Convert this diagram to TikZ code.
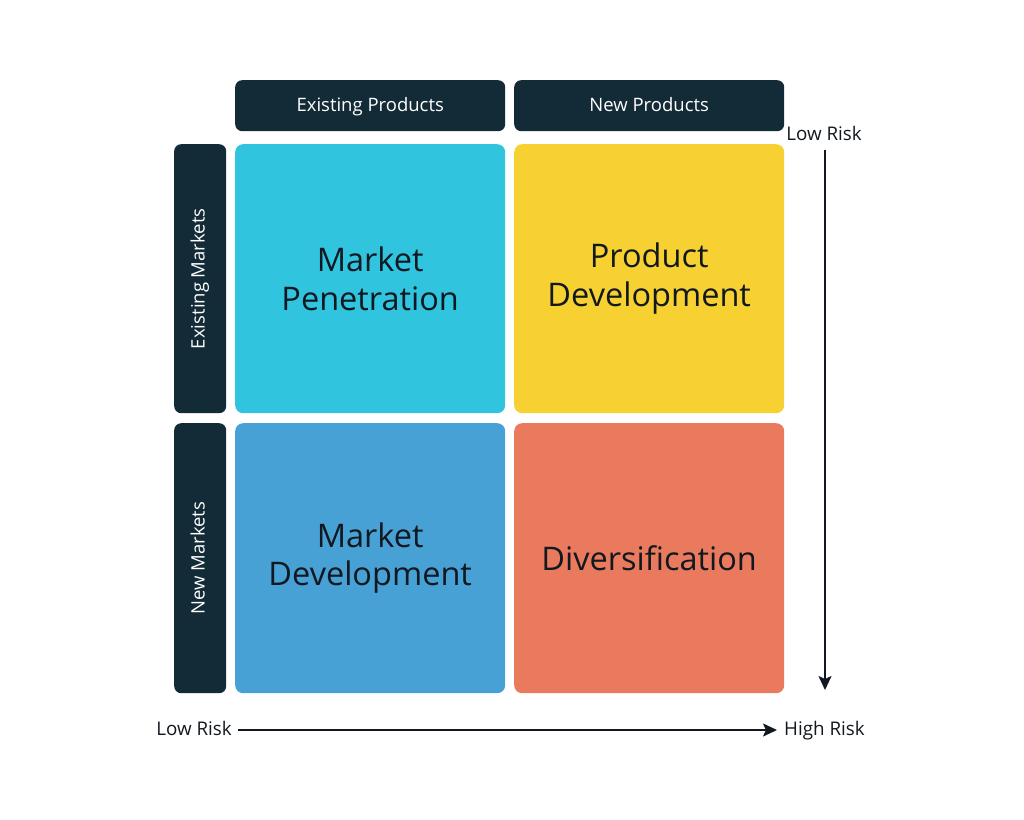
\documentclass[tikz,border=0pt]{standalone}
\usepackage{fontspec}
\setmainfont{Open Sans}
\usetikzlibrary{arrows.meta}
\definecolor{navy}{HTML}{132A37}
\definecolor{qcyan}{HTML}{30C4DF}
\definecolor{qyellow}{HTML}{F7D131}
\definecolor{qblue}{HTML}{47A1D5}
\definecolor{qorange}{HTML}{EA7A5D}
\definecolor{txt}{HTML}{111820}
\tikzset{
  hdr/.style={fill=navy, rounded corners=7pt, text=white, font=\fontsize{18.5}{22}\selectfont, inner sep=0pt, anchor=north west, text height=15pt, text depth=3pt},
  quad/.style={rounded corners=8pt, text=txt, font=\fontsize{32.5}{38.5}\selectfont, align=center, inner sep=0pt, anchor=north west, minimum width=270pt, minimum height=269pt},
  risk/.style={text=txt, font=\fontsize{18.8}{22}\selectfont, inner sep=0pt},
  side/.style={rotate=90, text=white, font=\fontsize{18.5}{22}\selectfont, text height=13.5pt, text depth=4.5pt, inner sep=0pt},
  axis/.style={line width=1.8pt, draw=txt, -{Stealth[length=14pt,width=13pt,inset=3pt]}}
}
\begin{document}
\begin{tikzpicture}[x=1pt,y=-1pt]
\useasboundingbox (0,0) rectangle (1024,819);
\node[hdr, minimum width=270pt, minimum height=51pt] (ep) at (235,80) {Existing Products};
\node[hdr, minimum width=270pt, minimum height=51pt] (np) at (514,80) {New Products};
\node[hdr, minimum width=52pt, minimum height=269pt] (em) at (174,144) {};
\node[side] at (em.center) {Existing Markets};
\node[hdr, minimum width=52pt, minimum height=270pt] (nm) at (174,423) {};
\node[side] at (nm.center) {New Markets};
\node[quad, fill=qcyan] (mp) at (235,144) {Market\\Penetration};
\node[quad, fill=qyellow] (pd) at (514,144) {Product\\Development};
\node[quad, fill=qblue, minimum height=270pt] (md) at (235,423) {Market\\Development};
\node[quad, fill=qorange, minimum height=270pt] (dv) at (514,423) {Diversification};
\node[risk, anchor=base] (lrt) at (824,140) {Low Risk};
\node[risk, anchor=base east] (lrb) at (232,735) {Low Risk};
\node[risk, anchor=base west] (hrb) at (784,735) {High Risk};
\coordinate (vs) at (825,150);
\coordinate (ve) at (825,690);
\coordinate (hs) at (238,730);
\coordinate (he) at (777,730);
\draw[axis] (vs) -- (ve);
\draw[axis] (hs) -- (he);
\end{tikzpicture}
\end{document}
